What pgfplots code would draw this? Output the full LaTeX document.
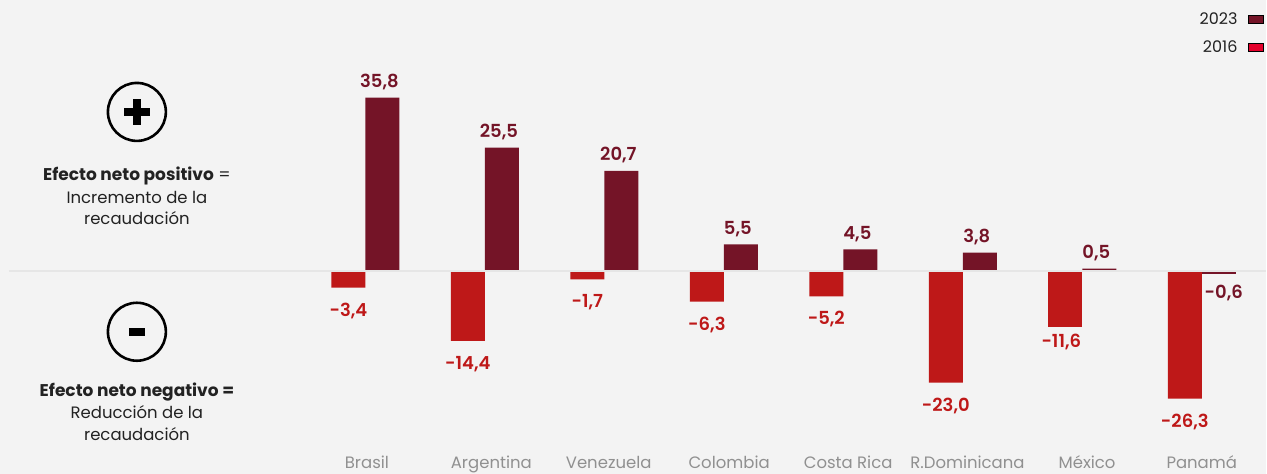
\documentclass[border=0pt]{standalone}
\usepackage{fontspec}
\setmainfont{Poppins}
\newfontfamily\semi{Poppins SemiBold}
\usepackage{pgfplots}
\pgfplotsset{compat=1.18}
\definecolor{bgc}{HTML}{F3F3F3}
\definecolor{dark}{HTML}{741427}
\definecolor{rojo}{HTML}{BE1818}
\definecolor{rojoleg}{HTML}{E4002B}
\definecolor{cero}{HTML}{E6E6E6}
\definecolor{gris}{HTML}{909090}
\definecolor{texto}{HTML}{222222}
\begin{document}
\begin{tikzpicture}[x=1pt,y=1pt]
\begin{axis}[
    at={(0,0)}, anchor=south west,
    scale only axis,
    width=1267pt, height=474pt,
    xmin=-3.0585, xmax=7.5378,
    ymin=-41.79, ymax=55.94,
    axis line style={draw=none},
    axis background/.style={fill=bgc},
    xtick={0.0125,1.054,2.036,3.044,4.04,5.039,6.04,7.0},
    xticklabels={Brasil,Argentina,Venezuela,Colombia,Costa Rica,R.Dominicana,México,Panamá},
    ytick=\empty,
    tick style={draw=none},
    xticklabel style={font=\fontsize{16.5}{18}\selectfont, text=gris, inner sep=0pt, outer sep=0pt, yshift=4.7pt, anchor=base},
    clip=false,
    legend image code/.code={\fill[#1] (0pt,-4pt) rectangle (15pt,4pt);},
    legend style={at={(1265pt,474pt)}, anchor=north east, draw=none, fill=none,
        legend plot pos=right, cells={anchor=east},
        font=\fontsize{16}{18}\selectfont, text=texto,
        row sep=10pt, column sep=9pt, inner sep=0pt, outer ysep=11pt},
    nodes near coords,
    nodes near coords align=center,
    point meta=explicit symbolic,
    every node near coord/.append style={font=\fontsize{18}{20}\semi, inner sep=0pt, outer sep=0pt, anchor=center},
]
\addlegendimage{fill=dark}
\addlegendentry{2023}
\addlegendimage{fill=rojoleg}
\addlegendentry{2016}

% 2016
\addplot[forget plot, ybar, bar width=34pt, bar shift=-17pt, fill=rojo, draw=none,
    every node near coord/.append style={text=rojo, xshift=-17pt, yshift=-23pt}] coordinates {
    (0,-3.4)[-3,4]
    (1,-14.4)[-14,4]
    (2,-1.7)[-1,7]
    (3,-6.3)[-6,3]
    (4,-5.2)[-5,2]
    (5,-23.0)[-23,0]
    (7,-26.3)[-26,3]
};
\addplot[forget plot, ybar, bar width=34pt, bar shift=-17pt, fill=rojo, draw=none,
    every node near coord/.append style={text=rojo, xshift=-21pt, yshift=-14.5pt}] coordinates {
    (6,-11.6)[-11,6]
};
% 2023
\addplot[forget plot, ybar, bar width=34pt, bar shift=17pt, fill=dark, draw=none,
    every node near coord/.append style={text=dark, xshift=14pt, yshift=15.5pt}] coordinates {
    (0,35.8)[35,8]
    (1,25.5)[25,5]
    (2,20.7)[20,7]
    (3,5.5)[5,5]
    (4,4.5)[4,5]
    (5,3.8)[3,8]
    (6,0.5)[0,5]
};
\addplot[forget plot, ybar, bar width=34pt, bar shift=17pt, fill=dark, draw=none,
    every node near coord/.append style={text=dark, xshift=22pt, yshift=-19pt}] coordinates {
    (7,-0.6)[-0,6]
};
% linea del cero, encima de las barras
\addplot[forget plot, cero, line width=2pt, nodes near coords={}] coordinates {(-2.986,0) (7.5378,0)};
\end{axis}
% iconos y textos (1pt = 1px, y desde abajo)
\draw[black, line width=2.6pt] (137pt,362pt) circle (29pt);
\fill[black] (124pt,358pt) rectangle (150pt,366pt);
\fill[black] (133pt,349pt) rectangle (141pt,375pt);
\draw[black, line width=2.6pt] (137pt,142pt) circle (29pt);
\fill[black] (129pt,138pt) rectangle (145pt,146pt);
\begin{scope}[every node/.style={font=\fontsize{16.5}{18}\selectfont, text=texto, inner sep=0pt, anchor=base}]
\node at (137pt,293.3pt) {\fontsize{17}{18}\selectfont\textbf{Efecto neto positivo} =};
\node at (137pt,270.7pt) {Incremento de la};
\node at (137pt,249pt) {recaudación};
\node at (137pt,77.3pt) {\fontsize{17}{18}\selectfont\textbf{Efecto neto negativo =}};
\node at (137pt,54.7pt) {Reducción de la};
\node at (137pt,33pt) {recaudación};
\end{scope}
\end{tikzpicture}
\end{document}
